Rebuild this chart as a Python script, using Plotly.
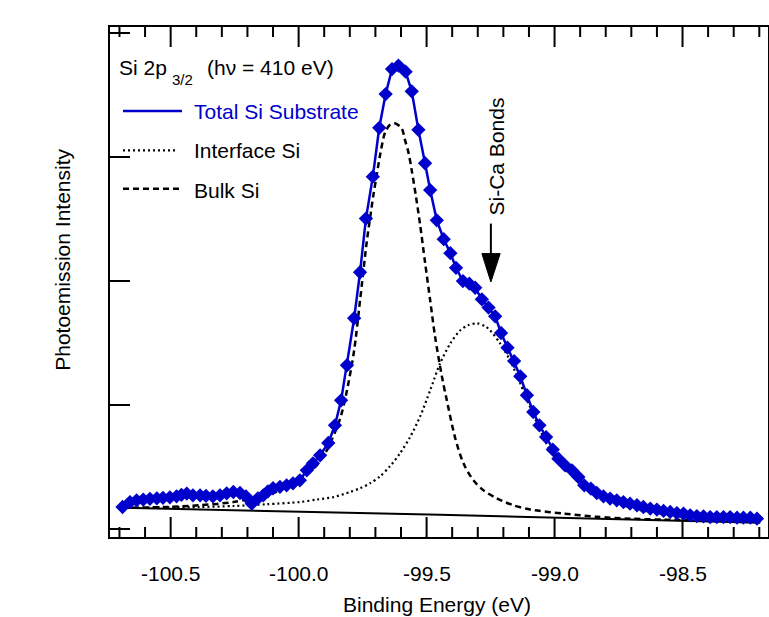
import plotly.graph_objects as go

# ---------------- data ----------------
energy = [-100.688, -100.659, -100.633, -100.607, -100.581, -100.554, -100.530, -100.503, -100.477, -100.458,
          -100.437, -100.413, -100.385, -100.362, -100.335, -100.307, -100.281, -100.255, -100.229, -100.206,
          -100.183, -100.159, -100.138, -100.120, -100.100, -100.073, -100.047, -100.022, -99.995, -99.968,
          -99.944, -99.916, -99.884, -99.858, -99.834, -99.811, -99.783, -99.760, -99.737, -99.710,
          -99.685, -99.660, -99.635, -99.610, -99.582, -99.558, -99.532, -99.506, -99.486, -99.460,
          -99.433, -99.407, -99.385, -99.358, -99.333, -99.310, -99.284, -99.258, -99.232, -99.209,
          -99.184, -99.158, -99.134, -99.108, -99.083, -99.059, -99.033, -99.007, -98.985, -98.959,
          -98.932, -98.907, -98.884, -98.858, -98.835, -98.809, -98.783, -98.757, -98.731, -98.705,
          -98.678, -98.653, -98.626, -98.600, -98.574, -98.548, -98.522, -98.496, -98.470, -98.444,
          -98.418, -98.392, -98.366, -98.340, -98.314, -98.287, -98.262, -98.235, -98.209]
intensity = [0.180, 0.220, 0.234, 0.240, 0.246, 0.250, 0.254, 0.258, 0.266, 0.278,
             0.288, 0.274, 0.274, 0.270, 0.266, 0.274, 0.290, 0.301, 0.293, 0.266,
             0.207, 0.250, 0.274, 0.306, 0.331, 0.343, 0.355, 0.371, 0.395, 0.476,
             0.532, 0.597, 0.696, 0.839, 1.040, 1.323, 1.702, 2.073, 2.506, 2.844,
             3.238, 3.510, 3.712, 3.740, 3.691, 3.532, 3.222, 2.952, 2.736, 2.492,
             2.340, 2.227, 2.109, 2.002, 1.981, 1.948, 1.855, 1.788, 1.718, 1.583,
             1.465, 1.357, 1.234, 1.081, 0.946, 0.839, 0.744, 0.643, 0.570, 0.516,
             0.476, 0.422, 0.355, 0.328, 0.293, 0.266, 0.248, 0.234, 0.220, 0.207,
             0.194, 0.180, 0.167, 0.159, 0.148, 0.140, 0.131, 0.127, 0.113, 0.107,
             0.105, 0.099, 0.099, 0.099, 0.099, 0.094, 0.094, 0.094, 0.086]

bulk_energy = [-100.688, -100.516, -100.385, -100.255, -100.125, -100.047, -99.983, -99.929, -99.890, -99.858,
               -99.834, -99.811, -99.783, -99.760, -99.734, -99.721, -99.708, -99.695, -99.682, -99.662,
               -99.643, -99.627, -99.615, -99.597, -99.584, -99.571, -99.558, -99.541, -99.525, -99.506,
               -99.486, -99.467, -99.441, -99.421, -99.389, -99.356, -99.317, -99.278, -99.226, -99.161,
               -99.095, -98.965, -98.835, -98.704, -98.574, -98.443, -98.314, -98.204]
bulk_intensity = [0.173, 0.180, 0.194, 0.220, 0.274, 0.341, 0.422, 0.516, 0.637, 0.782,
                  0.919, 1.121, 1.444, 1.847, 2.315, 2.508, 2.694, 2.855, 3.016, 3.202,
                  3.262, 3.274, 3.266, 3.234, 3.137, 3.040, 2.895, 2.677, 2.452, 2.153,
                  1.847, 1.556, 1.242, 1.040, 0.742, 0.532, 0.395, 0.315, 0.250, 0.194,
                  0.159, 0.127, 0.101, 0.086, 0.078, 0.073, 0.071, 0.070]

interface_energy = [-100.688, -100.647, -100.516, -100.385, -100.255, -100.125, -99.995, -99.929, -99.864, -99.799,
                    -99.760, -99.721, -99.682, -99.643, -99.604, -99.565, -99.525, -99.486, -99.447, -99.407,
                    -99.368, -99.338, -99.303, -99.271, -99.252, -99.213, -99.174, -99.134, -99.095, -99.056,
                    -99.017, -98.965, -98.900, -98.835, -98.757, -98.678, -98.574, -98.443, -98.314, -98.204]
interface_intensity = [0.172, 0.173, 0.178, 0.180, 0.188, 0.202, 0.220, 0.240, 0.260, 0.301,
                       0.331, 0.371, 0.427, 0.508, 0.613, 0.742, 0.911, 1.121, 1.339, 1.500,
                       1.605, 1.645, 1.661, 1.637, 1.605, 1.500, 1.363, 1.177, 0.984, 0.798,
                       0.637, 0.500, 0.371, 0.274, 0.210, 0.161, 0.121, 0.089, 0.073, 0.065]

background_energy = [-100.688, -99.447, -98.196]
background_intensity = [0.173, 0.117, 0.052]

x_tickvals = [-100.5, -100.0, -99.5, -99.0, -98.5]
x_ticktext = ["-100.5", "-100.0", "-99.5", "-99.0", "-98.5"]
x_minor_tickvals = [-100.7, -100.6, -100.4, -100.3, -100.2, -100.1, -99.9, -99.8, -99.7, -99.6,
                    -99.4, -99.3, -99.2, -99.1, -98.9, -98.8, -98.7, -98.6, -98.4, -98.3, -98.2]
x_range = [-100.737, -98.166]
y_range = [-0.062, 4.051]

# ---------------- styling ----------------
BLUE = "#0000CC"
FONT = "Liberation Sans, Arial, Helvetica, sans-serif"
FS = 21
PLOT_H = 510.0  # plot-area height in px

# plot area in pixels: x 110..767.7, y 26.7..536.7
def PX(px):
    return (px - 110.0) / 657.7

def PY(py):
    return (536.7 - py) / 510.0

# x-axis tick marks (inside, bottom and top) drawn on the x scale
units_per_px = (y_range[1] - y_range[0]) / PLOT_H
tick_x, tick_y = [], []
for vals, length_px in ((x_tickvals, 20), (x_minor_tickvals, 10)):
    L = length_px * units_per_px
    for v in vals:
        tick_x += [v, v, None, v, v, None]
        tick_y += [y_range[0], y_range[0] + L, None, y_range[1], y_range[1] - L, None]

fig = go.Figure()
fig.add_trace(go.Scatter(x=tick_x, y=tick_y, mode="lines", connectgaps=False,
                         line=dict(color="black", width=2), hoverinfo="skip"))
fig.add_trace(go.Scatter(x=background_energy, y=background_intensity, mode="lines",
                         line=dict(color="black", width=2), hoverinfo="skip"))
fig.add_trace(go.Scatter(x=interface_energy, y=interface_intensity, mode="lines",
                         line=dict(color="black", width=2.2, dash="2px,3px", shape="spline", smoothing=0.8)))
fig.add_trace(go.Scatter(x=bulk_energy, y=bulk_intensity, mode="lines",
                         line=dict(color="black", width=2.5, dash="6px,4px", shape="spline", smoothing=0.8)))
fig.add_trace(go.Scatter(x=energy, y=intensity, mode="lines+markers",
                         line=dict(color=BLUE, width=2.5),
                         marker=dict(symbol="diamond", size=11, color=BLUE)))

shapes = [
    # legend keys
    dict(type="line", xref="paper", yref="paper", x0=PX(123), x1=PX(182), y0=PY(110.7), y1=PY(110.7),
         line=dict(color=BLUE, width=2.5)),
    dict(type="line", xref="paper", yref="paper", x0=PX(123), x1=PX(177), y0=PY(150), y1=PY(150),
         line=dict(color="black", width=2.2, dash="2px,3px")),
    dict(type="line", xref="paper", yref="paper", x0=PX(123), x1=PX(182), y0=PY(188.5), y1=PY(188.5),
         line=dict(color="black", width=2.5, dash="6px,4px")),
    # arrow shaft
    dict(type="line", xref="paper", yref="paper", x0=PX(490.7), x1=PX(490.7), y0=PY(223.3), y1=PY(256),
         line=dict(color="black", width=2)),
    # arrow head
    dict(type="path", xref="paper", yref="paper",
         path=f"M {PX(481.7)} {PY(253.3)} L {PX(500)} {PY(253.3)} L {PX(490.7)} {PY(281.7)} Z",
         fillcolor="black", line=dict(color="black", width=1)),
]

def txt(text, x, y, size=FS, color="black", xanchor="left", angle=0):
    return dict(text=text, xref="paper", yref="paper", x=PX(x), y=PY(y), xanchor=xanchor,
                yanchor="middle", showarrow=False, textangle=angle,
                font=dict(family=FONT, size=size, color=color))

annotations = [
    txt("Si 2p", 117, 67),
    txt("3/2", 170, 79, size=15),
    txt("(h\u03bd = 410 eV)", 205, 67),
    txt("Total Si Substrate", 192, 111, color=BLUE),
    txt("Interface Si", 192, 150),
    txt("Bulk Si", 192, 190),
    txt("Si-Ca Bonds", 496, 156, xanchor="center", angle=-90),
    txt("Photoemission Intensity", 62.5, 259, xanchor="center", angle=-90),
    txt("Binding Energy (eV)", 437, 604, xanchor="center"),
]
# x tick labels placed on the x scale
for v, t in zip(x_tickvals, x_ticktext):
    annotations.append(dict(text=t, xref="x", yref="paper", x=v, y=PY(573), xanchor="center",
                            yanchor="middle", showarrow=False,
                            font=dict(family=FONT, size=FS, color="black")))

fig.update_layout(
    width=769, height=617,
    margin=dict(l=110, r=1, t=27, b=80, autoexpand=False),
    paper_bgcolor="white", plot_bgcolor="white",
    showlegend=False,
    font=dict(family=FONT, size=FS, color="black"),
    shapes=shapes, annotations=annotations,
    xaxis=dict(
        range=x_range, showticklabels=False, ticks="",
        showline=True, linecolor="black", linewidth=2, mirror=True,
        showgrid=False, zeroline=False, automargin=False, fixedrange=True,
    ),
    yaxis=dict(
        range=y_range, tickmode="linear", tick0=0, dtick=1,
        ticks="inside", ticklen=20, tickwidth=2, tickcolor="black",
        showticklabels=False, showline=True, linecolor="black", linewidth=2, mirror=True,
        showgrid=False, zeroline=False, automargin=False, fixedrange=True,
    ),
)

fig.write_html("out.html", config={"displayModeBar": False},
               post_script="document.body.style.margin='0px';document.body.style.padding='0px';")
